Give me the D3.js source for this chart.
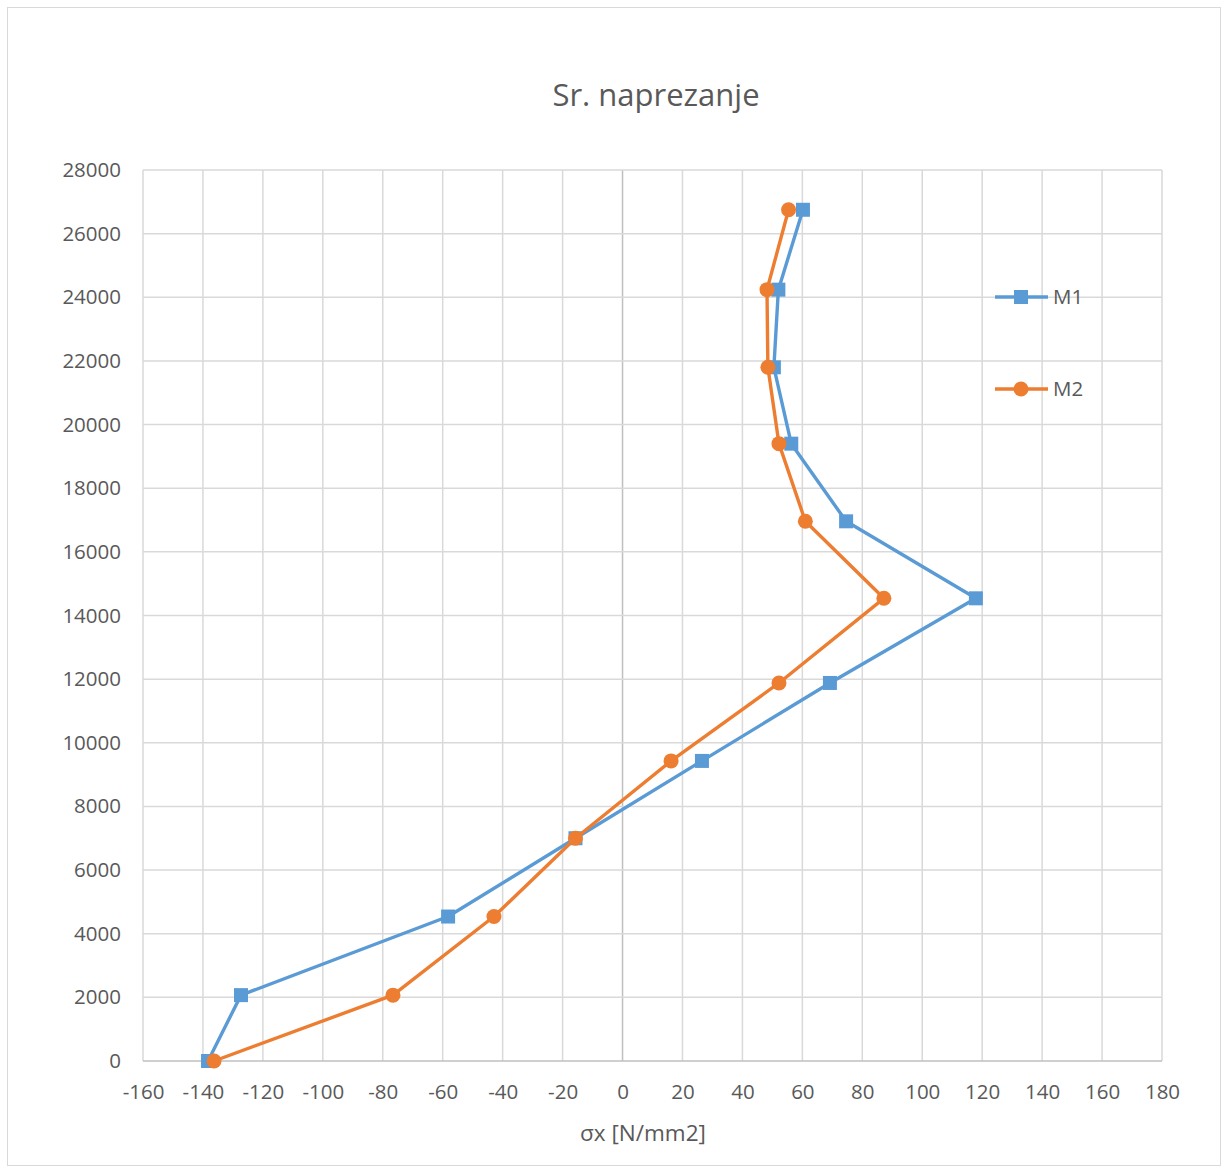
<!DOCTYPE html>
<html><head><meta charset="utf-8">
<script src="https://cdn.jsdelivr.net/npm/d3@7"></script>
<style>body{margin:0;background:#fff;} text{font-family:"Open Sans","Liberation Sans",sans-serif;}</style>
</head><body>
<svg id="c" width="1228" height="1171"></svg>
<script>
const heights = [0, 2070, 4540, 7000, 9430, 11880, 14540, 16960, 19400, 21800, 24240, 26750];
const m1 = [-138.3, -127.3, -58.2, -15.7, 26.5, 69.2, 117.9, 74.6, 56.3, 50.5, 52.0, 60.2];
const m2 = [-136.3, -76.6, -42.9, -15.7, 16.2, 52.2, 87.2, 61.0, 52.2, 48.5, 48.2, 55.4];
const xTicks = [-160,-140,-120,-100,-80,-60,-40,-20,0,20,40,60,80,100,120,140,160,180];
const yTicks = [0,2000,4000,6000,8000,10000,12000,14000,16000,18000,20000,22000,24000,26000,28000];
const seriesNames = ["M1","M2"];
const colors = ["#5b9bd5","#ed7d31"];

const svg = d3.select("#c");
svg.append("rect").attr("x",7.5).attr("y",7.5).attr("width",1213).attr("height",1158)
  .attr("fill","#fff").attr("stroke","#d9d9d9");

const x = d3.scaleLinear().domain([-160,180]).range([143,1162]);
const y = d3.scaleLinear().domain([0,28000]).range([1061,170]);

// grid
svg.append("g").selectAll("line").data(xTicks).join("line")
  .attr("x1",d=>x(d)).attr("x2",d=>x(d)).attr("y1",y(0)).attr("y2",y(28000))
  .attr("stroke",d=>d===0?"#bfbfbf":"#d9d9d9").attr("stroke-width",1.5);
svg.append("g").selectAll("line").data(yTicks).join("line")
  .attr("x1",x(-160)).attr("x2",x(180)).attr("y1",d=>y(d)).attr("y2",d=>y(d))
  .attr("stroke",d=>d===0?"#bfbfbf":"#d9d9d9").attr("stroke-width",1.5);

const fmt = d => String(d);
const xAxis = svg.append("g").attr("transform",`translate(0,${y(0)})`)
  .call(d3.axisBottom(x).tickValues(xTicks).tickSize(0).tickPadding(23).tickFormat(fmt));
xAxis.select(".domain").remove();
xAxis.selectAll("text").attr("font-size",20.5).attr("fill","#595959");
const yAxis = svg.append("g").attr("transform",`translate(${x(-160)},0)`)
  .call(d3.axisLeft(y).tickValues(yTicks).tickSize(0).tickPadding(22).tickFormat(fmt));
yAxis.select(".domain").remove();
yAxis.selectAll("text").attr("font-size",20.5).attr("fill","#595959");

svg.append("text").attr("x",656).attr("y",106).attr("text-anchor","middle")
  .attr("font-size",31).attr("fill","#595959").text("Sr. naprezanje");
svg.append("text").attr("x",643).attr("y",1141).attr("text-anchor","middle")
  .attr("font-size",22.5).attr("fill","#595959").text("σx [N/mm2]");

const data = [m1, m2];
const line = d3.line().x(d=>x(d[0])).y(d=>y(d[1]));
data.forEach((vals,i)=>{
  const pts = vals.map((v,j)=>[v,heights[j]]);
  svg.append("path").datum(pts).attr("d",line).attr("fill","none")
    .attr("stroke",colors[i]).attr("stroke-width",3.4).attr("stroke-linejoin","round");
  const g = svg.append("g");
  if(i===0){
    g.selectAll("rect").data(pts).join("rect")
      .attr("x",d=>x(d[0])-7).attr("y",d=>y(d[1])-7).attr("width",14).attr("height",14)
      .attr("fill",colors[i]);
  } else {
    g.selectAll("circle").data(pts).join("circle")
      .attr("cx",d=>x(d[0])).attr("cy",d=>y(d[1])).attr("r",7.5).attr("fill",colors[i]);
  }
});

// legend
const legY = [297, 389];
seriesNames.forEach((n,i)=>{
  const g = svg.append("g");
  g.append("line").attr("x1",995).attr("x2",1048).attr("y1",legY[i]).attr("y2",legY[i])
    .attr("stroke",colors[i]).attr("stroke-width",3.4);
  if(i===0) g.append("rect").attr("x",1021-7).attr("y",legY[i]-7).attr("width",14).attr("height",14).attr("fill",colors[i]);
  else g.append("circle").attr("cx",1021).attr("cy",legY[i]).attr("r",7.5).attr("fill",colors[i]);
  g.append("text").attr("x",1053).attr("y",legY[i]+7).attr("font-size",20.5).attr("fill","#595959").text(n);
});
</script>
</body></html>
